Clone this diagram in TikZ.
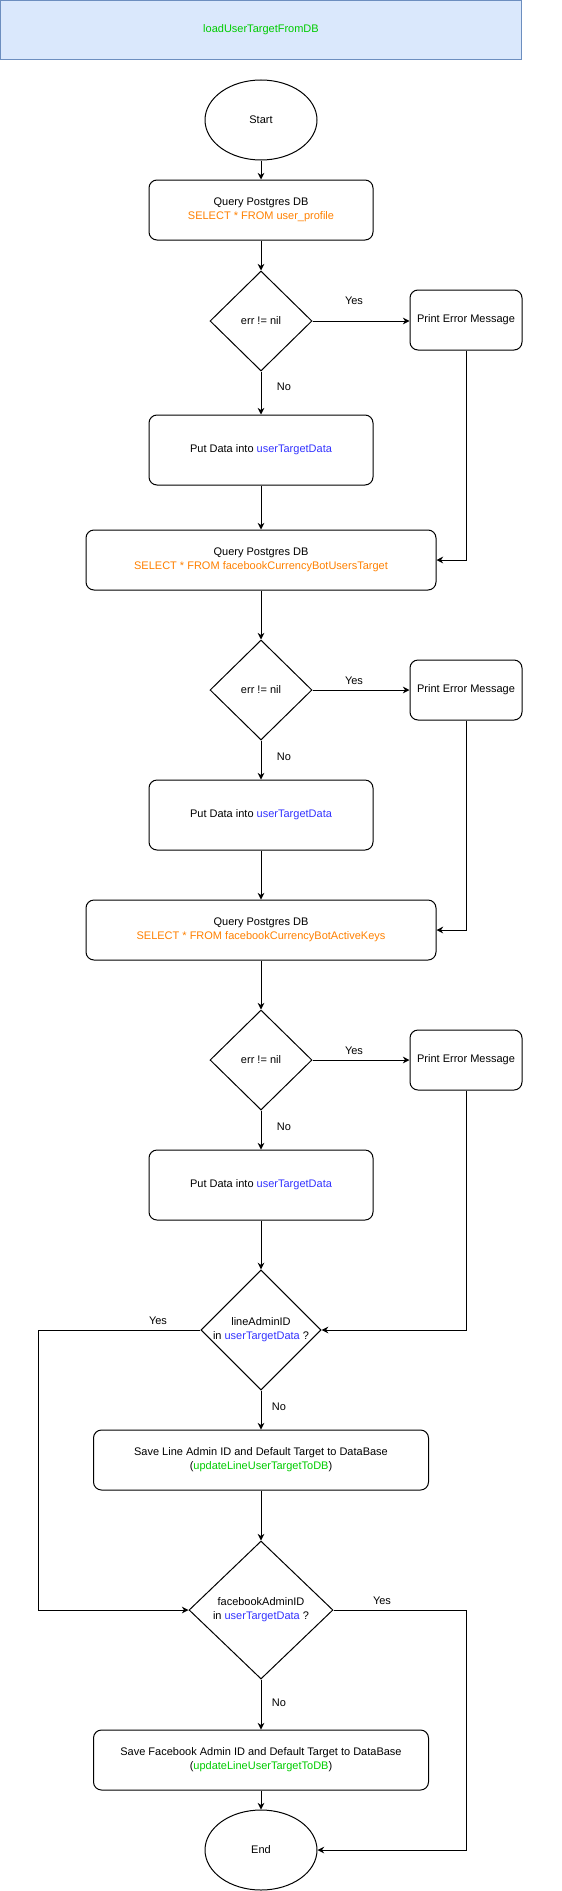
\documentclass[tikz,border=0pt]{standalone}
\usepackage{xcolor}
\usepackage{fontspec}
\setmainfont{Liberation Sans}
\usetikzlibrary{shapes.geometric,arrows.meta}

\definecolor{titlefill}{HTML}{DAE8FC}
\definecolor{titleline}{HTML}{6C8EBF}
\definecolor{sqlorange}{HTML}{FF8000}
\definecolor{varblue}{HTML}{3333FF}
\definecolor{fngreen}{HTML}{00CC00}

\newcommand{\sqltext}[1]{\textcolor{sqlorange}{#1}}
\newcommand{\vartext}[1]{\textcolor{varblue}{#1}}
\newcommand{\fntext}[1]{\textcolor{fngreen}{#1}}

\begin{document}
\begin{tikzpicture}[x=0.75pt,y=-0.75pt,line width=0.75pt,
        font=\fontsize{8.25}{10.5}\selectfont,
        box/.style={draw,rounded corners=6pt,align=center,inner sep=2pt,minimum height=45pt},
        decide/.style={draw,diamond,align=center,inner sep=0pt},
        term/.style={draw,ellipse,minimum width=84pt,minimum height=60pt},
        arr/.style={-{Stealth[length=5pt,width=5pt]}},
        lbl/.style={inner sep=0pt}]
                \useasboundingbox (0,0) rectangle (561,1891);

                \node (title) [fill=titlefill,draw=titleline,minimum width=390.75pt,minimum height=44.25pt] at (261,30) {\fntext{loadUserTargetFromDB}};

                \node (start) [term] at (261,120) {Start};
                \node (q1) [box,minimum width=168pt] at (261,210) {Query Postgres DB\\\sqltext{SELECT * FROM user\_profile}};
                \node (d1) [decide,minimum width=76.5pt,minimum height=75pt] at (261,321) {err != nil};
                \node (pe1) [box,minimum width=84pt] at (466,320) {Print Error Message};
                \node (put1) [box,minimum width=168pt,minimum height=52.5pt] at (261,450) {Put Data into \vartext{userTargetData}};

                \node (q2) [box,minimum width=262.5pt] at (261,560) {Query Postgres DB\\\sqltext{SELECT * FROM facebookCurrencyBotUsersTarget}};
                \node (d2) [decide,minimum width=76.5pt,minimum height=75pt] at (261,690) {err != nil};
                \node (pe2) [box,minimum width=84pt] at (466,690) {Print Error Message};
                \node (put2) [box,minimum width=168pt,minimum height=52.5pt] at (261,815) {Put Data into \vartext{userTargetData}};

                \node (q3) [box,minimum width=262.5pt] at (261,930) {Query Postgres DB\\\sqltext{SELECT * FROM facebookCurrencyBotActiveKeys}};
                \node (d3) [decide,minimum width=76.5pt,minimum height=75pt] at (261,1060) {err != nil};
                \node (pe3) [box,minimum width=84pt] at (466,1060) {Print Error Message};
                \node (put3) [box,minimum width=168pt,minimum height=52.5pt] at (261,1185) {Put Data into \vartext{userTargetData}};

                \node (d4) [decide,minimum width=90pt,minimum height=89.25pt] at (261,1330) {lineAdminID\\in \vartext{userTargetData} ?};
                \node (save1) [box,minimum width=251.25pt] at (261,1460) {Save Line Admin ID and Default Target to DataBase\\(\fntext{updateLineUserTargetToDB})};
                \node (d5) [decide,minimum width=108pt,minimum height=103.5pt] at (261,1610) {facebookAdminID\\in \vartext{userTargetData} ?};
                \node (save2) [box,minimum width=251.25pt] at (261,1760) {Save Facebook Admin ID and Default Target to DataBase\\(\fntext{updateLineUserTargetToDB})};
                \node (finish) [term] at (261,1850) {End};

                \coordinate (lft) at (38,1330);
                \coordinate (rgt) at (466,1850);

                \draw[arr] (start) -- (q1);
                \draw[arr] (q1) -- (d1);
                \draw[arr] (d1) -- (pe1.west |- d1);
                \draw[arr] (d1) -- (put1);
                \draw[arr] (put1) -- (q2);
                \draw[arr] (pe1.south) |- (q2.east);

                \draw[arr] (q2) -- (d2);
                \draw[arr] (d2) -- (pe2);
                \draw[arr] (d2) -- (put2);
                \draw[arr] (put2) -- (q3);
                \draw[arr] (pe2.south) |- (q3.east);

                \draw[arr] (q3) -- (d3);
                \draw[arr] (d3) -- (pe3);
                \draw[arr] (d3) -- (put3);
                \draw[arr] (put3) -- (d4);
                \draw[arr] (pe3.south) |- (d4.east);

                \draw[arr] (d4.west) -- (lft) |- (d5.west);
                \draw[arr] (d4) -- (save1);
                \draw[arr] (save1) -- (d5);
                \draw[arr] (d5.east) -| (rgt) -- (finish.east);
                \draw[arr] (d5) -- (save2);
                \draw[arr] (save2) -- (finish);

                \node (yes1) [lbl] at (354,301) {Yes};
                \node (no1) [lbl] at (284,387) {No};
                \node (yes2) [lbl] at (354,681) {Yes};
                \node (no2) [lbl] at (284,757) {No};
                \node (yes3) [lbl] at (354,1051) {Yes};
                \node (no3) [lbl] at (284,1127) {No};
                \node (yes4) [lbl] at (158,1321) {Yes};
                \node (no4) [lbl] at (279,1407) {No};
                \node (yes5) [lbl] at (382,1601) {Yes};
                \node (no5) [lbl] at (279,1703) {No};
            \end{tikzpicture}
\end{document}
